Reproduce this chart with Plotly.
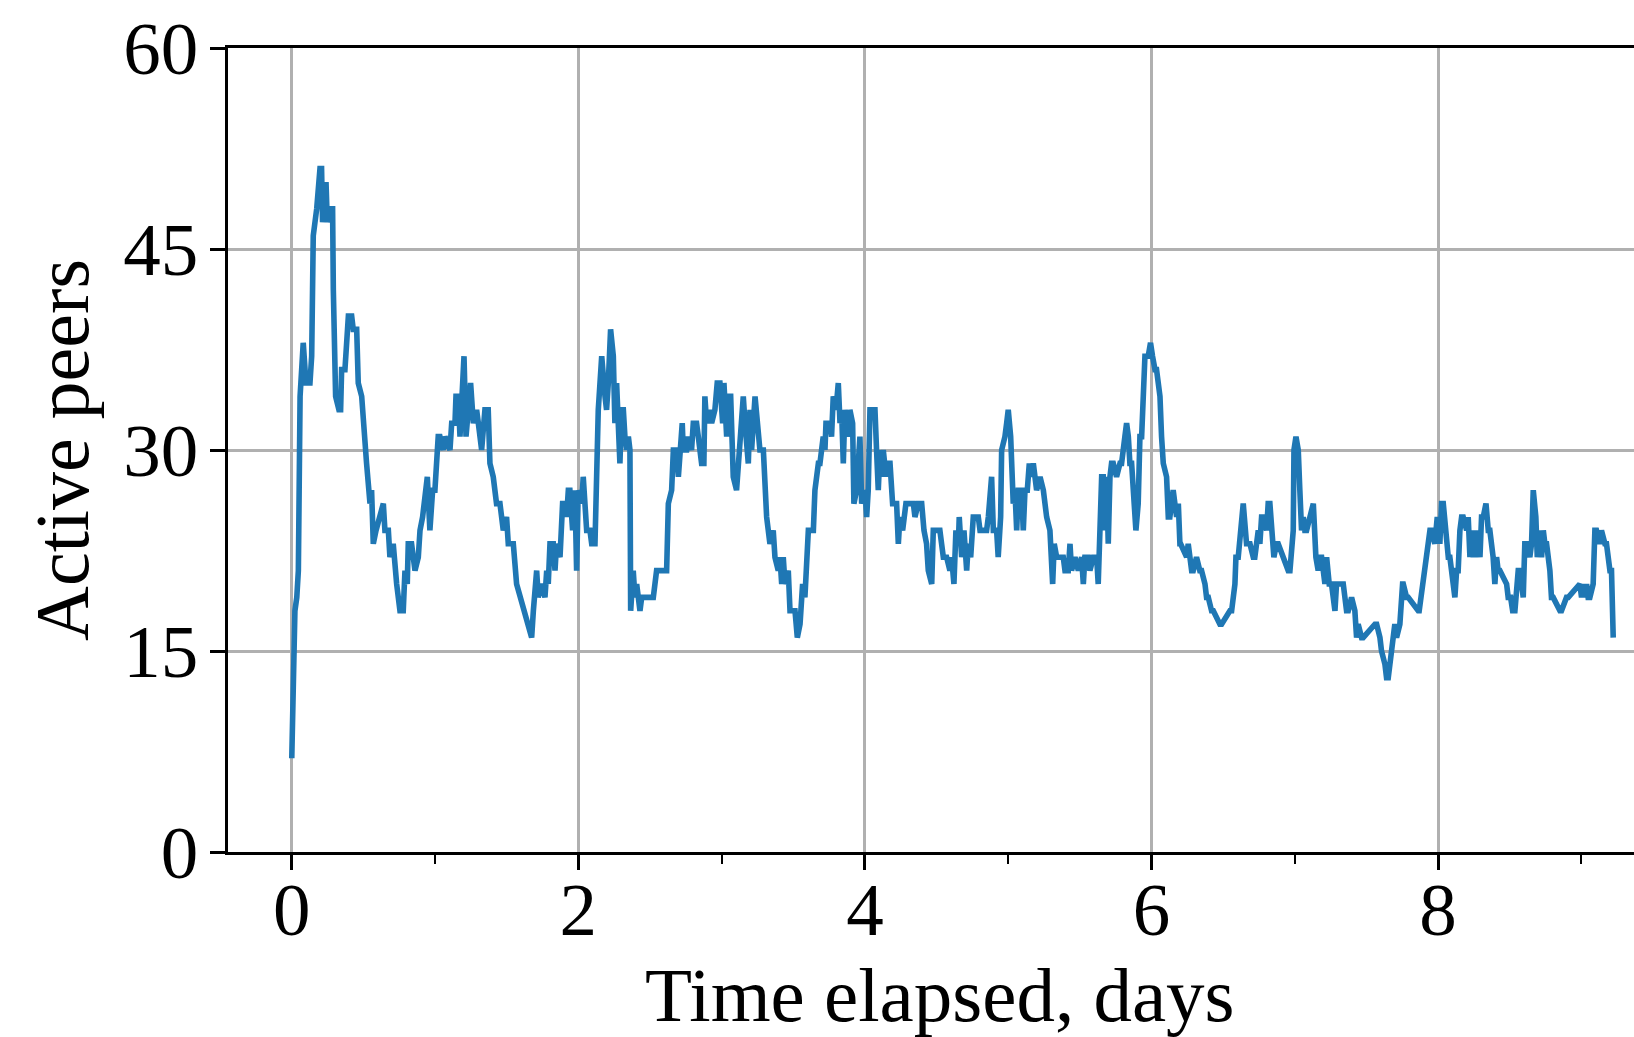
import plotly.graph_objects as go

days = [
    0.000, 0.012, 0.022, 0.035, 0.046, 0.058, 0.069, 0.080, 0.099, 0.127, 0.139, 0.146, 0.150,
    0.174, 0.197, 0.208, 0.215, 0.239, 0.248, 0.267, 0.285, 0.290, 0.306, 0.329, 0.341, 0.348,
    0.371, 0.395, 0.418, 0.429, 0.453, 0.464, 0.488, 0.522, 0.534, 0.546, 0.557, 0.569, 0.588,
    0.639, 0.650, 0.674, 0.685, 0.708, 0.732, 0.755, 0.778, 0.790, 0.806, 0.813, 0.836, 0.860,
    0.883, 0.895, 0.913, 0.929, 0.946, 0.964, 0.983, 0.999, 1.011, 1.022, 1.034, 1.057, 1.069,
    1.104, 1.116, 1.139, 1.146, 1.162, 1.174, 1.185, 1.202, 1.216, 1.232, 1.248, 1.267, 1.290,
    1.302, 1.325, 1.348, 1.371, 1.383, 1.406, 1.429, 1.453, 1.476, 1.499, 1.511, 1.546, 1.569,
    1.593, 1.627, 1.651, 1.674, 1.686, 1.709, 1.720, 1.744, 1.767, 1.779, 1.790, 1.802, 1.825,
    1.837, 1.848, 1.872, 1.890, 1.906, 1.918, 1.930, 1.941, 1.960, 1.976, 1.988, 1.999, 2.023,
    2.034, 2.058, 2.081, 2.093, 2.116, 2.128, 2.139, 2.151, 2.163, 2.186, 2.197, 2.209, 2.225,
    2.244, 2.255, 2.267, 2.279, 2.290, 2.302, 2.314, 2.325, 2.337, 2.349, 2.360, 2.365, 2.383,
    2.395, 2.407, 2.430, 2.442, 2.523, 2.546, 2.569, 2.616, 2.628, 2.651, 2.663, 2.686, 2.698,
    2.709, 2.725, 2.732, 2.756, 2.767, 2.790, 2.802, 2.825, 2.837, 2.849, 2.860, 2.876, 2.883,
    2.895, 2.918, 2.930, 2.953, 2.969, 2.988, 3.007, 3.016, 3.035, 3.046, 3.063, 3.081, 3.104,
    3.128, 3.151, 3.163, 3.186, 3.198, 3.209, 3.233, 3.249, 3.267, 3.291, 3.302, 3.314, 3.337,
    3.360, 3.372, 3.395, 3.407, 3.419, 3.430, 3.442, 3.465, 3.477, 3.512, 3.528, 3.547, 3.565,
    3.581, 3.593, 3.605, 3.640, 3.651, 3.675, 3.686, 3.709, 3.721, 3.728, 3.756, 3.767, 3.779,
    3.798, 3.814, 3.826, 3.837, 3.849, 3.860, 3.884, 3.895, 3.914, 3.923, 3.942, 3.965, 3.977,
    4.000, 4.012, 4.023, 4.035, 4.070, 4.081, 4.093, 4.105, 4.116, 4.128, 4.147, 4.156, 4.175,
    4.193, 4.221, 4.233, 4.244, 4.263, 4.279, 4.286, 4.338, 4.349, 4.372, 4.396, 4.412, 4.430,
    4.442, 4.466, 4.477, 4.500, 4.523, 4.535, 4.547, 4.570, 4.593, 4.605, 4.621, 4.635, 4.652,
    4.658, 4.675, 4.691, 4.710, 4.721, 4.738, 4.756, 4.791, 4.803, 4.814, 4.849, 4.861, 4.884,
    4.896, 4.919, 4.930, 4.947, 4.954, 4.977, 4.989, 5.000, 5.017, 5.024, 5.035, 5.047, 5.059,
    5.070, 5.093, 5.105, 5.117, 5.133, 5.147, 5.163, 5.175, 5.198, 5.222, 5.245, 5.268, 5.291,
    5.310, 5.321, 5.338, 5.384, 5.396, 5.419, 5.431, 5.442, 5.466, 5.489, 5.512, 5.524, 5.535,
    5.559, 5.570, 5.594, 5.617, 5.628, 5.640, 5.652, 5.663, 5.675, 5.687, 5.698, 5.710, 5.721,
    5.733, 5.756, 5.780, 5.791, 5.814, 5.826, 5.838, 5.849, 5.861, 5.884, 5.891, 5.907, 5.919,
    5.931, 5.947, 5.954, 5.977, 5.993, 6.007, 6.024, 6.035, 6.059, 6.070, 6.082, 6.105, 6.117,
    6.128, 6.151, 6.175, 6.187, 6.198, 6.203, 6.245, 6.256, 6.280, 6.291, 6.314, 6.337, 6.349,
    6.373, 6.384, 6.396, 6.419, 6.431, 6.477, 6.489, 6.547, 6.559, 6.582, 6.589, 6.605, 6.628,
    6.640, 6.663, 6.687, 6.710, 6.721, 6.745, 6.756, 6.768, 6.780, 6.803, 6.814, 6.826, 6.845,
    6.854, 6.872, 6.884, 6.954, 6.966, 6.989, 6.994, 7.008, 7.024, 7.035, 7.047, 7.059, 7.070,
    7.082, 7.129, 7.147, 7.163, 7.175, 7.187, 7.210, 7.222, 7.240, 7.256, 7.280, 7.291, 7.303,
    7.338, 7.361, 7.373, 7.396, 7.419, 7.431, 7.442, 7.466, 7.477, 7.559, 7.571, 7.594, 7.605,
    7.629, 7.640, 7.652, 7.698, 7.710, 7.733, 7.752, 7.757, 7.780, 7.791, 7.861, 7.868, 7.943,
    7.954, 7.977, 7.994, 8.012, 8.024, 8.036, 8.059, 8.071, 8.082, 8.105, 8.117, 8.129, 8.140,
    8.152, 8.164, 8.175, 8.199, 8.210, 8.222, 8.233, 8.245, 8.257, 8.268, 8.280, 8.292, 8.303,
    8.315, 8.334, 8.350, 8.361, 8.384, 8.396, 8.408, 8.419, 8.431, 8.478, 8.489, 8.506, 8.520,
    8.536, 8.547, 8.559, 8.571, 8.594, 8.605, 8.617, 8.640, 8.652, 8.664, 8.682, 8.692, 8.706,
    8.722, 8.734, 8.745, 8.757, 8.780, 8.791, 8.803, 8.850, 8.861, 8.896, 8.908, 8.989, 9.001,
    9.013, 9.024, 9.036, 9.047, 9.059, 9.082, 9.094, 9.105, 9.129, 9.140, 9.164, 9.175, 9.199,
    9.210, 9.222, 9.233,
]
peers = [
    7, 12, 18, 19, 21, 34, 37, 38, 35, 35, 37, 41, 46,
    48, 51, 51, 47, 50, 47, 48, 48, 42, 34, 33, 33, 36,
    36, 40, 40, 39, 39, 35, 34, 29, 27, 26, 27, 23, 24,
    26, 24, 24, 22, 23, 20, 18, 18, 21, 20, 23, 23, 21,
    22, 24, 25, 27, 28, 24, 27, 27, 29, 31, 31, 30, 31,
    30, 32, 32, 34, 34, 31, 34, 37, 31, 33, 35, 32, 33,
    32, 30, 33, 33, 29, 28, 26, 26, 24, 25, 23, 23, 20,
    19, 18, 17, 16, 18, 21, 19, 20, 19, 21, 20, 23, 23,
    21, 23, 22, 26, 26, 25, 27, 27, 24, 27, 21, 27, 26,
    28, 24, 24, 23, 23, 31, 33, 35, 37, 34, 33, 35, 39,
    37, 32, 35, 31, 29, 33, 33, 31, 30, 31, 30, 18, 21,
    19, 20, 18, 19, 19, 21, 21, 21, 26, 27, 30, 30, 28,
    30, 32, 30, 30, 31, 30, 32, 32, 31, 30, 29, 29, 34,
    32, 33, 32, 33, 35, 35, 32, 35, 31, 34, 34, 28, 27,
    30, 34, 32, 29, 33, 30, 34, 32, 30, 30, 28, 25, 23,
    24, 22, 21, 22, 20, 22, 20, 21, 18, 18, 16, 17, 20,
    19, 21, 24, 24, 27, 29, 29, 31, 30, 32, 32, 31, 34,
    33, 35, 32, 33, 29, 33, 31, 33, 32, 26, 27, 31, 26,
    27, 25, 27, 33, 33, 30, 27, 30, 28, 30, 28, 29, 29,
    26, 26, 23, 25, 24, 25, 26, 26, 25, 26, 26, 24, 23,
    21, 20, 24, 24, 24, 23, 22, 22, 21, 22, 20, 24, 23,
    25, 22, 24, 21, 23, 22, 25, 25, 24, 24, 24, 25, 28,
    24, 24, 22, 25, 30, 31, 32, 33, 31, 28, 26, 27, 24,
    27, 27, 24, 27, 27, 29, 28, 29, 27, 28, 27, 25, 24,
    20, 23, 22, 22, 21, 21, 23, 21, 22, 21, 22, 20, 22,
    22, 21, 22, 22, 20, 25, 28, 28, 24, 28, 23, 28, 29,
    29, 28, 29, 29, 31, 32, 31, 29, 29, 26, 24, 26, 31,
    31, 36, 37, 37, 38, 37, 36, 36, 34, 31, 29, 28, 25,
    25, 27, 25, 26, 23, 23, 22, 23, 21, 21, 22, 21, 21,
    20, 19, 19, 18, 18, 17, 17, 18, 18, 20, 22, 22,
    25, 26, 23, 23, 22, 22, 24, 23, 25, 25, 24, 26, 26,
    23, 22, 23, 23, 21, 21, 24, 30, 31, 30, 27, 24, 25,
    24, 24, 26, 22, 21, 22, 22, 20, 22, 20, 20, 18, 20,
    20, 20, 18, 18, 19, 18, 16, 17, 16, 16, 17, 17, 16,
    15, 14, 13, 13, 17, 16, 17, 20, 20, 19, 19, 18, 18,
    24, 24, 23, 25, 23, 26, 26, 23, 22, 22, 20, 19, 21,
    21, 24, 25, 25, 24, 25, 22, 24, 22, 24, 22, 24, 22,
    25, 25, 26, 24, 24, 22, 20, 22, 21, 21, 20, 19, 19,
    18, 18, 20, 21, 21, 19, 23, 23, 22, 23, 27, 25, 22,
    24, 22, 24, 23, 23, 21, 19, 19, 18, 18, 19, 19, 20,
    19, 20, 19, 20, 19, 19, 20, 24, 24, 23, 24, 23, 23,
    21, 21, 16,
]

x_ticks = [0, 2, 4, 6, 8]
x_minor_ticks = [1, 3, 5, 7, 9]
y_ticks = [0, 15, 30, 45, 60]
x_label = "Time elapsed, days"
y_label = "Active peers"

FONT = "Liberation Serif, Times New Roman, serif"

fig = go.Figure(
    go.Scatter(
        x=days, y=peers, mode="lines",
        line=dict(color="#1f77b4", width=5.6),
        showlegend=False,
    )
)

fig.update_layout(
    width=1634, height=1037,
    margin=dict(l=228, r=0, t=48, b=185, pad=0),
    paper_bgcolor="white", plot_bgcolor="white",
    font=dict(family=FONT, size=75, color="black"),
    annotations=[dict(
        text=x_label, xref="paper", yref="paper", x=0.5, y=0,
        xanchor="center", yanchor="top", xshift=9, yshift=-98,
        showarrow=False, font=dict(family=FONT, size=77, color="black"),
    )],
)

fig.update_xaxes(
    range=[-0.445, 9.367],
    tickmode="array", tickvals=x_ticks, ticktext=[str(v) for v in x_ticks],
    ticks="outside", ticklen=15, tickwidth=2.7, tickcolor="black",
    ticklabelstandoff=-25,
    showline=True, linecolor="black", linewidth=2.7, mirror=True,
    showgrid=True, gridcolor="#b0b0b0", gridwidth=2.7,
    zeroline=False,
    minor=dict(tickvals=x_minor_ticks, ticks="outside", ticklen=9,
               tickwidth=2.2, tickcolor="black", showgrid=False),
    tickfont=dict(family=FONT, size=75, color="black"),
)
fig.update_yaxes(
    range=[0, 60],
    tickmode="array", tickvals=y_ticks, ticktext=[str(v) for v in y_ticks],
    ticks="outside", ticklen=15, tickwidth=2.7, tickcolor="black",
    ticklabelstandoff=-3,
    showline=True, linecolor="black", linewidth=2.7, mirror=False,
    showgrid=True, gridcolor="#b0b0b0", gridwidth=2.7,
    zeroline=False,
    tickfont=dict(family=FONT, size=75, color="black"),
    title=dict(text=y_label, font=dict(family=FONT, size=76, color="black"), standoff=10),
)

fig.write_html(
    "out.html",
    config={"displayModeBar": False},
    post_script="document.body.style.margin='0';document.body.style.overflow='hidden';",
)
